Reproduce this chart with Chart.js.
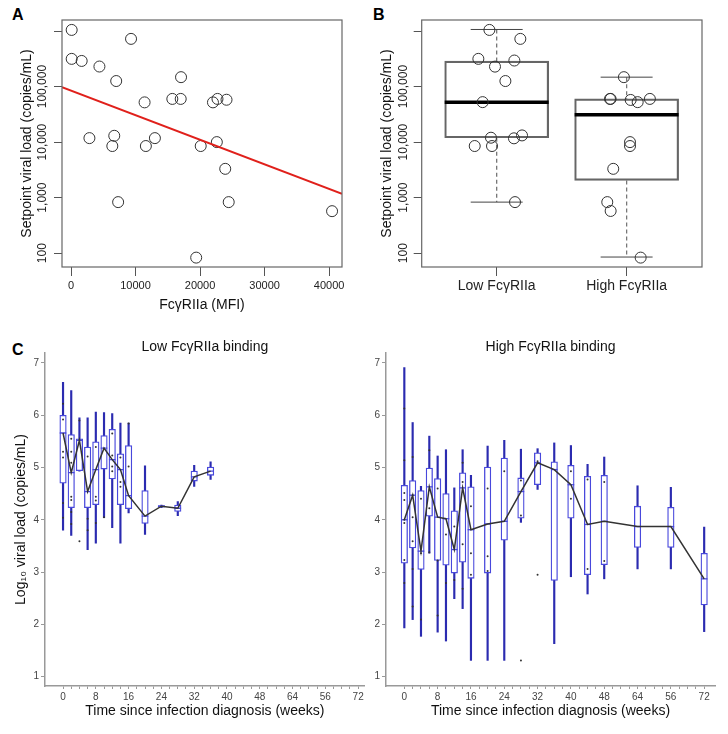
<!DOCTYPE html>
<html>
<head>
<meta charset="utf-8">
<script src="https://cdn.jsdelivr.net/npm/chart.js@4.4.1/dist/chart.umd.min.js"></script>
<style>
  body { margin: 0; background: #fff; width: 728px; height: 734px; position: relative; overflow: hidden;
         font-family: "Liberation Sans", Arial, sans-serif; }
  canvas { position: absolute; }
  .tag { position: absolute; font-weight: bold; font-size: 16px; line-height: 18px; color: #000; }
</style>
</head>
<body>
<div class="tag" style="left:12px;top:6px">A</div>
<div class="tag" style="left:373px;top:6px">B</div>
<div class="tag" style="left:12px;top:341px">C</div>
<canvas id="chartA" width="360" height="330" style="left:0;top:0"></canvas>
<canvas id="chartB" width="368" height="330" style="left:360px;top:0"></canvas>
<canvas id="chartLow" width="370" height="404" style="left:0;top:330px"></canvas>
<canvas id="chartHigh" width="358" height="404" style="left:370px;top:330px"></canvas>
<script>
// ---- panel A: setpoint VL vs FcgRIIa binding ----
const mfi = [100, 100, 1650, 4400, 9300, 7000, 2850, 6700, 6400, 7300, 11400, 11600, 13000,
  15700, 17000, 17050, 19400, 20100, 22000, 22700, 22600, 24100, 23900, 24440, 40460];
const setpointA = [1050000, 316000, 290000, 230000, 724000, 126000, 11800, 13000, 8500, 830, 52000, 8500, 11800,
  60000, 60000, 148000, 83, 8500, 52000, 60000, 10000, 58000, 3300, 830, 570];
const fitX = [-1400, 42000];
const fitY = [97700, 1170];
const aXTicks = [0, 10000, 20000, 30000, 40000];
const vlTicks = [100, 1000, 10000, 100000, 1000000];
const vlTickLabels = ['100', '1,000', '10,000', '100,000', ''];

// ---- panel B: low vs high groups ----
const groupLabels = ['Low Fc\u03b3RIIa', 'High Fc\u03b3RIIa'];
const lowVl = [1050000, 316000, 295000, 229000, 724000, 126000, 52500, 12000, 11700, 13200, 8500, 8500, 830];
const lowJitter = [-0.056, -0.141, 0.136, -0.013, 0.182, 0.067, -0.108, -0.044, 0.133, 0.195, -0.169, -0.036, 0.141];
const highVl = [148000, 60000, 60000, 57500, 60000, 52500, 10000, 8500, 3300, 830, 575, 83];
const highJitter = [-0.021, -0.128, -0.123, 0.031, 0.179, 0.085, 0.026, 0.026, -0.103, -0.149, -0.123, 0.108];
const bMin = [830, 85];
const bQ1 = [12000, 2040];
const bMed = [52500, 31000];
const bQ3 = [288000, 60000];
const bMax = [1070000, 148000];

// ---- panel C: log10 VL over time ----
const weekTicks = [];
for (let w = 0; w <= 72; w += 2) weekTicks.push(w);
const weekLabels = ['0', '8', '16', '24', '32', '40', '48', '64', '56', '72'];

const weeksLow = [0, 2, 4, 6, 8, 10, 12, 14, 16, 20, 24, 28, 32, 36];
const lowMin = [3.80, 3.70, 4.93, 3.43, 3.55, 4.04, 3.85, 3.55, 4.13, 3.72, 4.23, 4.08, 4.64, 4.77];
const lowQ1  = [4.70, 4.23, 4.94, 4.23, 4.29, 4.97, 4.78, 4.29, 4.21, 3.93, 4.24, 4.16, 4.74, 4.85];
const lowMed = [5.66, 4.90, 5.52, 4.54, 4.96, 5.37, 5.15, 4.96, 4.46, 4.07, 4.26, 4.22, 4.82, 4.93];
const lowQ3  = [6.00, 5.63, 5.55, 5.39, 5.49, 5.61, 5.73, 5.26, 5.42, 4.56, 4.27, 4.28, 4.93, 5.01];
const lowMax = [6.63, 6.47, 5.95, 5.95, 6.06, 6.05, 6.03, 5.85, 5.85, 5.03, 4.28, 4.35, 5.04, 5.11];
const lowDotWeek = [0, 0, 0, 0, 0, 0, 2, 2, 2, 2, 2, 2, 2, 4, 4, 4, 6, 6, 6, 8, 8, 8, 8, 10, 10,
  12, 12, 12, 12, 14, 14, 14, 16, 16];
const lowDotVal = [6.22, 5.92, 5.30, 5.19, 4.32, 4.04, 5.55, 5.30, 5.09, 4.44, 4.38, 4.15, 3.92, 5.90, 5.53, 3.59,
  5.21, 4.02, 3.80, 5.39, 4.44, 4.37, 3.94, 5.36, 4.05, 5.65, 5.23, 5.02, 4.93, 5.19, 4.72, 4.63, 5.84, 5.02];

const weeksHigh = [0, 2, 4, 6, 8, 10, 12, 14, 16, 20, 24, 28, 32, 36, 40, 44, 48, 56, 64, 72];
const highMin = [1.93, 2.09, 1.77, 3.36, 1.85, 1.68, 2.49, 2.30, 1.31, 1.31, 1.31, 3.95, 4.58, 1.63, 2.91, 2.58, 2.87, 3.06, 3.06, 1.86];
const highQ1  = [3.17, 3.46, 3.05, 4.07, 3.22, 3.13, 2.98, 3.19, 2.88, 2.98, 3.61, 4.03, 4.67, 2.84, 4.03, 2.95, 3.14, 3.47, 3.47, 2.37];
const highMed = [4.00, 4.47, 3.40, 4.63, 4.05, 4.02, 3.43, 4.61, 3.81, 3.92, 3.97, 4.54, 5.09, 4.96, 4.67, 3.91, 3.97, 3.87, 3.87, 2.87];
const highQ3  = [4.66, 4.75, 4.56, 4.99, 4.79, 4.50, 4.17, 4.90, 4.63, 5.01, 5.18, 4.80, 5.28, 5.11, 5.04, 4.83, 4.85, 4.26, 4.24, 3.36];
const highMax = [6.91, 5.86, 4.64, 5.60, 5.22, 5.34, 4.61, 5.34, 4.85, 5.41, 5.52, 5.35, 5.36, 5.47, 5.42, 5.06, 5.20, 4.65, 4.62, 3.86];
const highDotWeek = [0, 0, 0, 0, 0, 0, 0, 0, 2, 2, 2, 2, 2, 2, 4, 4, 4, 6, 6, 6, 8, 8, 8, 10, 10, 12, 12,
  14, 14, 14, 14, 16, 16, 16, 20, 20, 20, 24, 28, 28, 28, 32, 32, 40, 40, 44, 44, 48, 48];
const highDotVal = [6.13, 5.14, 4.51, 4.38, 4.00, 3.94, 3.23, 2.79, 5.20, 4.47, 4.05, 3.59, 3.06, 2.34,
  4.40, 3.36, 2.09, 5.33, 4.22, 3.38, 4.60, 3.22, 2.17, 3.72, 2.79, 3.87, 2.85,
  5.09, 4.72, 3.53, 2.68, 4.26, 3.36, 2.95, 4.60, 3.30, 3.02, 4.93, 4.75, 4.08, 1.31, 5.12, 2.95,
  4.93, 4.40, 4.77, 3.06, 4.72, 3.21];

Chart.defaults.font.family = '"Liberation Sans", Arial, sans-serif';
Chart.defaults.animation = false;
Chart.defaults.plugins.legend.display = false;
Chart.defaults.plugins.tooltip.enabled = false;

const FONT = '"Liberation Sans", Arial, sans-serif';

// box round the plot (R base graphics style)
const framePlugin = {
  id: 'frame',
  afterDatasetsDraw(chart) {
    const { ctx, chartArea: a } = chart;
    ctx.save();
    ctx.strokeStyle = '#666';
    ctx.lineWidth = 1.2;
    ctx.strokeRect(a.left, a.top, a.right - a.left, a.bottom - a.top);
    ctx.restore();
  }
};

// y tick labels written sideways, like R's default las=0
function sideTicks(xPos) {
  return {
    id: 'sideTicks',
    afterDraw(chart) {
      const s = chart.scales.y, ctx = chart.ctx;
      ctx.save();
      ctx.font = '12px ' + FONT;
      ctx.fillStyle = '#222';
      ctx.textAlign = 'center';
      ctx.textBaseline = 'middle';
      vlTicks.forEach((v, i) => {
        ctx.save();
        ctx.translate(xPos, s.getPixelForValue(v));
        ctx.rotate(-Math.PI / 2);
        ctx.fillText(vlTickLabels[i], 0, 0);
        ctx.restore();
      });
      ctx.restore();
    }
  };
}

function vlAxis(width, titlePad) {
  return {
    type: 'logarithmic',
    min: Math.pow(10, 1.75),
    max: Math.pow(10, 6.2),
    afterBuildTicks: s => { s.ticks = vlTicks.map(v => ({ value: v })); },
    ticks: { display: false },
    grid: { drawOnChartArea: false, drawTicks: true, tickLength: 8, color: '#555' },
    border: { display: false },
    title: { display: true, text: 'Setpoint viral load (copies/mL)', color: '#111',
             font: { size: 14 }, padding: { top: titlePad, bottom: 0 } },
    afterFit: s => { s.width = width; }
  };
}

// ---------- A ----------
new Chart(document.getElementById('chartA'), {
  type: 'scatter',
  data: {
    datasets: [
      { type: 'line', data: fitX.map((x, i) => ({ x, y: fitY[i] })), borderColor: '#e0201b',
        borderWidth: 2, pointRadius: 0, order: 0 },
      { data: mfi.map((x, i) => ({ x, y: setpointA[i] })), pointRadius: 5.5,
        pointBorderColor: '#333', pointBackgroundColor: 'rgba(0,0,0,0)', pointBorderWidth: 1, order: 1 }
    ]
  },
  options: {
    responsive: false,
    layout: { padding: { top: 20, right: 18, left: 0, bottom: 0 } },
    scales: {
      x: {
        type: 'linear', min: -1400, max: 42000,
        afterBuildTicks: s => { s.ticks = aXTicks.map(v => ({ value: v })); },
        ticks: { color: '#222', font: { size: 11 }, padding: 3, maxRotation: 0, autoSkip: false,
                 callback: v => String(v) },
        grid: { drawOnChartArea: false, tickLength: 9, color: '#555' },
        border: { display: false },
        title: { display: true, text: 'Fc\u03b3RIIa (MFI)', color: '#111', font: { size: 14 },
                 padding: { top: 0, bottom: 16.6 } },
        afterFit: s => { s.height = 63; }
      },
      y: vlAxis(62, 19)
    }
  },
  plugins: [framePlugin, sideTicks(43)]
});

// ---------- B ----------
const capHalf = 0.2, boxHalf = 0.4;
function segs(fn) {
  const out = [];
  groupLabels.forEach((g, i) => { fn(i + 1, i).forEach(p => out.push(p)); out.push({ x: i + 1, y: null }); });
  return out;
}
new Chart(document.getElementById('chartB'), {
  type: 'scatter',
  data: {
    datasets: [
      { type: 'bar', data: groupLabels.map((g, i) => ({ x: i + 1, y: [bQ1[i], bQ3[i]] })),
        backgroundColor: 'rgba(255,255,255,0)', borderColor: '#666', borderWidth: 1.5,
        borderSkipped: false, barThickness: 104, grouped: false, order: 3 },
      { type: 'line', data: segs((x, i) => [{ x, y: bMax[i] }, { x, y: bQ3[i] }, { x, y: null }, { x, y: bQ1[i] }, { x, y: bMin[i] }]),
        borderColor: '#777', borderWidth: 1.3, borderDash: [4, 3], pointRadius: 0, spanGaps: false, order: 4 },
      { type: 'line', data: segs((x, i) => [{ x: x - capHalf, y: bMax[i] }, { x: x + capHalf, y: bMax[i] }, { x, y: null },
                                            { x: x - capHalf, y: bMin[i] }, { x: x + capHalf, y: bMin[i] }]),
        borderColor: '#444', borderWidth: 1, pointRadius: 0, spanGaps: false, order: 2 },
      { type: 'line', data: segs((x, i) => [{ x: x - boxHalf, y: bMed[i] }, { x: x + boxHalf, y: bMed[i] }]),
        borderColor: '#000', borderWidth: 3.5, pointRadius: 0, spanGaps: false, order: 1 },
      { data: lowVl.map((v, i) => ({ x: 1 + lowJitter[i], y: v }))
          .concat(highVl.map((v, i) => ({ x: 2 + highJitter[i], y: v }))),
        pointRadius: 5.5, pointBorderColor: '#333', pointBackgroundColor: 'rgba(0,0,0,0)',
        pointBorderWidth: 1, order: 0 }
    ]
  },
  options: {
    responsive: false,
    layout: { padding: { top: 20, right: 26, left: 0, bottom: 0 } },
    scales: {
      x: {
        type: 'linear', min: 0.423, max: 2.58, offset: false,
        afterBuildTicks: s => { s.ticks = groupLabels.map((g, i) => ({ value: i + 1 })); },
        ticks: { color: '#222', font: { size: 14 }, padding: 2, maxRotation: 0, autoSkip: false,
                 callback: v => groupLabels[Math.round(v) - 1] },
        grid: { drawOnChartArea: false, tickLength: 9, color: '#555', offset: false },
        border: { display: false },
        afterFit: s => { s.height = 63; }
      },
      y: vlAxis(61.7, 18.3)
    }
  },
  plugins: [framePlugin, sideTicks(43.3)]
});

// ---------- C ----------
function timecourse(id, opt) {
  const n = opt.weeks;
  return new Chart(document.getElementById(id), {
    type: 'scatter',
    data: {
      datasets: [
        { type: 'bar', data: n.map((w, i) => ({ x: w, y: [opt.min[i], opt.max[i]] })),
          backgroundColor: '#2b2bb0', barThickness: 1.5, grouped: false, order: 5 },
        { type: 'bar', data: n.map((w, i) => ({ x: w, y: [opt.q1[i], opt.q3[i]] })),
          backgroundColor: '#fff', borderColor: '#4848dc', borderWidth: 1.3, borderSkipped: false,
          barThickness: 6.5, grouped: false, order: 4 },
        { data: n.map((w, i) => ({ x: w, y: opt.med[i] })), pointStyle: 'line', pointRadius: 3.3,
          pointBorderColor: '#4848dc', pointBorderWidth: 1.3, order: 3 },
        { data: opt.dotW.map((w, i) => ({ x: w, y: opt.dotV[i] })), pointRadius: 1,
          pointBackgroundColor: '#333', pointBorderWidth: 0, order: 2 },
        { type: 'line', data: n.map((w, i) => ({ x: w, y: opt.med[i] })), borderColor: '#333',
          borderWidth: 1.5, pointRadius: 0, order: 1 }
      ]
    },
    options: {
      responsive: false,
      layout: { padding: { top: 0, right: opt.padRight, left: 0, bottom: 0 } },
      scales: {
        x: {
          type: 'linear', min: -4.4, max: opt.xMax, offset: false,
          afterBuildTicks: s => { s.ticks = weekTicks.map(v => ({ value: v })); },
          ticks: { color: '#444', font: { size: 10 }, padding: 2, maxRotation: 0, autoSkip: false,
                   callback: v => (v % 8 === 0 ? weekLabels[v / 8] : '') },
          grid: { drawOnChartArea: false, tickLength: 3, color: '#999', offset: false },
          border: { display: true, color: '#999', width: 1.5 },
          title: { display: true, text: 'Time since infection diagnosis (weeks)', color: '#111',
                   font: { size: 14 }, padding: { top: 0, bottom: 14 } },
          afterFit: s => { s.height = 48; }
        },
        x2: {
          type: 'linear', position: 'top',
          ticks: { display: false }, grid: { display: false }, border: { display: false },
          title: { display: true, text: opt.title, color: '#111', font: { size: 14 },
                   padding: { top: 8.3, bottom: 0 } },
          afterFit: s => { s.height = 23; }
        },
        y: {
          type: 'linear', min: 0.82, max: 7.19,
          afterBuildTicks: s => { s.ticks = [1, 2, 3, 4, 5, 6, 7].map(v => ({ value: v })); },
          ticks: { color: '#444', font: { size: 10 }, padding: 2 },
          grid: { drawOnChartArea: false, tickLength: 4, color: '#999' },
          border: { display: true, color: '#999', width: 1.5 },
          title: { display: opt.yTitle, text: 'Log\u2081\u2080 viral load (copies/mL)', color: '#111',
                   font: { size: 14 }, padding: { top: 12.6, bottom: 0 } },
          afterFit: s => { s.width = opt.yWidth; }
        }
      }
    }
  });
}

timecourse('chartLow', {
  weeks: weeksLow, min: lowMin, q1: lowQ1, med: lowMed, q3: lowQ3, max: lowMax,
  dotW: lowDotWeek, dotV: lowDotVal, title: 'Low Fc\u03b3RIIa binding',
  yTitle: true, yWidth: 45, xMax: 73.6, padRight: 0
});
timecourse('chartHigh', {
  weeks: weeksHigh, min: highMin, q1: highQ1, med: highMed, q3: highQ3, max: highMax,
  dotW: highDotWeek, dotV: highDotVal, title: 'High Fc\u03b3RIIa binding',
  yTitle: false, yWidth: 16, xMax: 74.6, padRight: 13
});
</script>
</body>
</html>
